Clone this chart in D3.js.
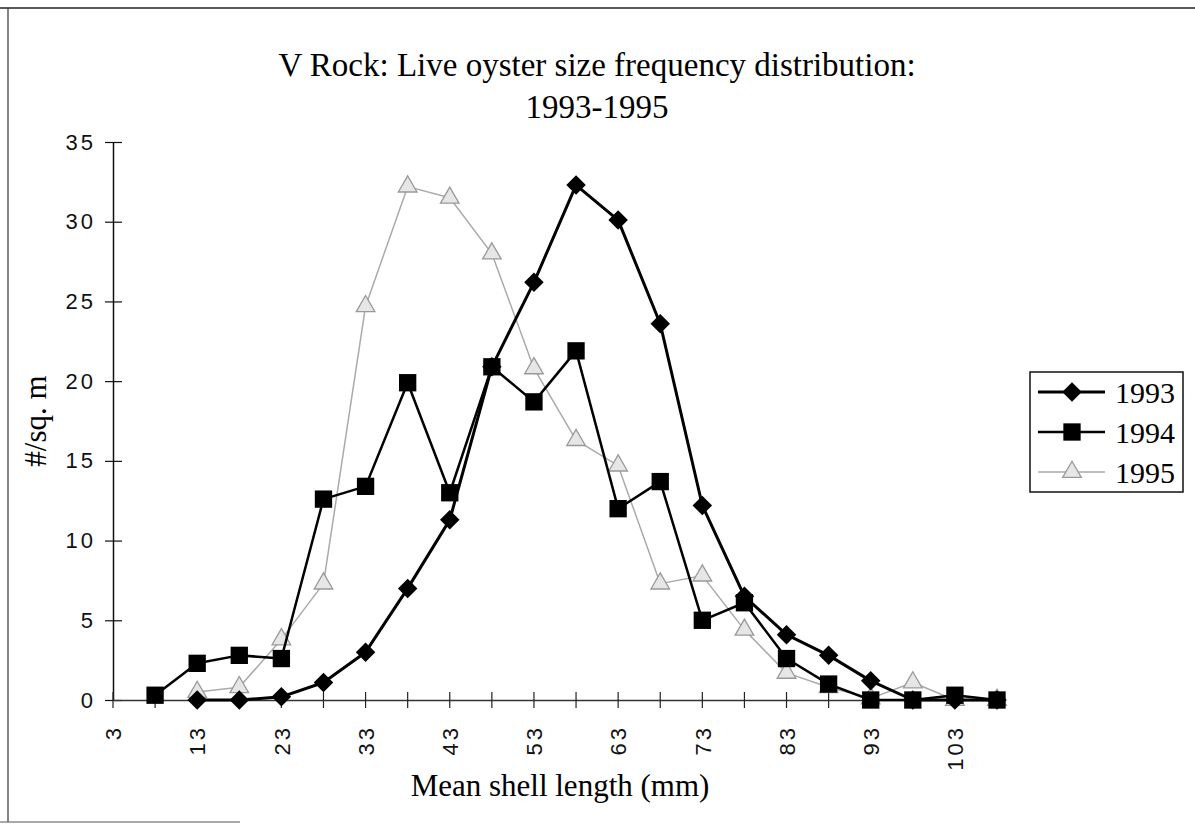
<!DOCTYPE html>
<html>
<head>
<meta charset="utf-8">
<script src="https://cdn.jsdelivr.net/npm/d3@7"></script>
<style>
  body { margin: 0; background: #fff; }
  svg { display: block; }
</style>
</head>
<body>
<div id="chart"></div>
<script>
// shell length classes (mm)
const lengths = [8, 13, 18, 23, 28, 33, 38, 43, 48, 53, 58, 63, 68, 73, 78, 83, 88, 93, 98, 103, 108];
const tickLabels = [3, 13, 23, 33, 43, 53, 63, 73, 83, 93, 103];
const yTicks = [0, 5, 10, 15, 20, 25, 30, 35];
const years = ["1993", "1994", "1995"];

// #/sq. m per class
const v1993 = [null, 0, 0, 0.2, 1.1, 3.0, 7.0, 11.3, 20.9, 26.2, 32.3, 30.1, 23.6, 12.2, 6.5, 4.1, 2.8, 1.2, 0, 0, 0];
const v1994 = [0.3, 2.3, 2.8, 2.6, 12.6, 13.4, 19.9, 13.0, 20.9, 18.7, 21.9, 12.0, 13.7, 5.0, 6.1, 2.6, 1.0, 0, 0, 0.3, 0];
const v1995 = [null, 0.5, 0.8, 3.8, 7.3, 24.7, 32.2, 31.5, 28.0, 20.8, 16.3, 14.7, 7.3, 7.8, 4.4, 1.7, 0.8, 0.1, 1.1, 0, 0];

const width = 1195, height = 827;
const serif = "'Liberation Serif', 'Times New Roman', serif";
const sans = "'Liberation Sans', Arial, sans-serif";

const svg = d3.select("#chart").append("svg")
    .attr("width", width)
    .attr("height", height);

// scanned page frame
svg.append("line").attr("x1", 0).attr("x2", width).attr("y1", 8).attr("y2", 8)
    .attr("stroke", "#222").attr("stroke-width", 1.5);
svg.append("line").attr("x1", 8).attr("x2", 8).attr("y1", 8).attr("y2", 822)
    .attr("stroke", "#333").attr("stroke-width", 1.2);
svg.append("line").attr("x1", 0).attr("x2", 240).attr("y1", 822).attr("y2", 822)
    .attr("stroke", "#555").attr("stroke-width", 1);

// scales
const x = d3.scaleLinear().domain([3, 108]).range([113, 997]);
const y = d3.scaleLinear().domain([0, 35]).range([700, 142]);

// title
svg.append("text")
    .attr("x", 597).attr("y", 76)
    .attr("text-anchor", "middle")
    .style("font-family", serif)
    .style("font-size", "33px")
    .text("V Rock: Live oyster size frequency distribution:");
svg.append("text")
    .attr("x", 597).attr("y", 118)
    .attr("text-anchor", "middle")
    .style("font-family", serif)
    .style("font-size", "33px")
    .text("1993-1995");

// y axis
const yAxis = svg.append("g")
    .attr("transform", `translate(${x(3)}, 0)`)
    .call(d3.axisLeft(y).tickValues(yTicks).tickSize(0).tickPadding(17));
yAxis.select(".domain").attr("stroke", "#111").attr("stroke-width", 1.5);
yAxis.selectAll(".tick text")
    .style("font-family", sans)
    .style("font-size", "22px")
    .style("letter-spacing", "3px")
    .attr("fill", "#111");
yAxis.selectAll(".tick").append("line")
    .attr("x1", -8).attr("x2", 9)
    .attr("stroke", "#111").attr("stroke-width", 1.2);

// x axis
const xAxis = svg.append("g")
    .attr("transform", `translate(0, ${y(0)})`)
    .call(d3.axisBottom(x).tickValues(tickLabels).tickSize(0).tickFormat(d3.format("d")));
xAxis.select(".domain").attr("stroke", "#333").attr("stroke-width", 1.3);
xAxis.selectAll(".tick text")
    .attr("transform", "rotate(-90)")
    .attr("x", -25).attr("y", 0).attr("dy", "0.35em")
    .attr("text-anchor", "end")
    .style("font-family", sans)
    .style("font-size", "22px")
    .style("letter-spacing", "3px")
    .attr("fill", "#111");
svg.append("g")
    .selectAll("line")
    .data(d3.range(3, 109, 5))
    .enter()
    .append("line")
    .attr("x1", d => x(d)).attr("x2", d => x(d))
    .attr("y1", y(0) - 8).attr("y2", y(0) + 8)
    .attr("stroke", "#222").attr("stroke-width", 1.2);

// axis titles
svg.append("text")
    .attr("x", 560).attr("y", 796)
    .attr("text-anchor", "middle")
    .style("font-family", serif)
    .style("font-size", "31px")
    .text("Mean shell length (mm)");
svg.append("text")
    .attr("transform", `translate(46, ${(y(0) + y(35)) / 2}) rotate(-90)`)
    .attr("text-anchor", "middle")
    .style("font-family", serif)
    .style("font-size", "31px")
    .text("#/sq. m");

// series
const series = [
    { name: years[0], values: v1993, colour: "#000", width: 3, shape: "diamond" },
    { name: years[1], values: v1994, colour: "#000", width: 2.5, shape: "square" },
    { name: years[2], values: v1995, colour: "#aaa", width: 1.5, shape: "triangle" }
];

const symbolOf = {
    diamond: d3.symbol().type(d3.symbolSquare).size(190),
    square: d3.symbol().type(d3.symbolSquare).size(300),
    triangle: d3.symbol().type(d3.symbolTriangle).size(150)
};

function drawMarker(g, shape, colour) {
    const p = g.append("path").attr("d", symbolOf[shape]());
    if (shape === "diamond") p.attr("transform", "rotate(45)");
    if (shape === "triangle") {
        p.attr("fill", "#e6e6e6").attr("stroke", "#999").attr("stroke-width", 1.3);
    } else {
        p.attr("fill", colour);
    }
}

const line = d3.line()
    .defined(d => d.v !== null)
    .x(d => x(d.len))
    .y(d => y(d.v));

// draw 1995 first so the black series sit on top, like the original
[series[2], series[1], series[0]].forEach(s => {
    const pts = lengths.map((len, i) => ({ len: len, v: s.values[i] }));
    svg.append("path")
        .datum(pts)
        .attr("fill", "none")
        .attr("stroke", s.colour)
        .attr("stroke-width", s.width)
        .attr("stroke-linejoin", "round")
        .attr("d", line);
    pts.filter(d => d.v !== null).forEach(d => {
        const g = svg.append("g").attr("transform", `translate(${x(d.len)}, ${y(d.v)})`);
        drawMarker(g, s.shape, s.colour);
    });
});

// legend
const legend = svg.append("g").attr("transform", "translate(1030, 372)");
legend.append("rect")
    .attr("width", 153).attr("height", 120)
    .attr("fill", "#fff").attr("stroke", "#111").attr("stroke-width", 1.5);
series.forEach((s, i) => {
    const ly = 20 + i * 40;
    legend.append("line")
        .attr("x1", 8).attr("x2", 75).attr("y1", ly).attr("y2", ly)
        .attr("stroke", s.colour).attr("stroke-width", s.width);
    const g = legend.append("g").attr("transform", `translate(42, ${ly})`);
    drawMarker(g, s.shape, s.colour);
    legend.append("text")
        .attr("x", 85).attr("y", ly + 11)
        .style("font-family", serif)
        .style("font-size", "30px")
        .text(s.name);
});
</script>
</body>
</html>
